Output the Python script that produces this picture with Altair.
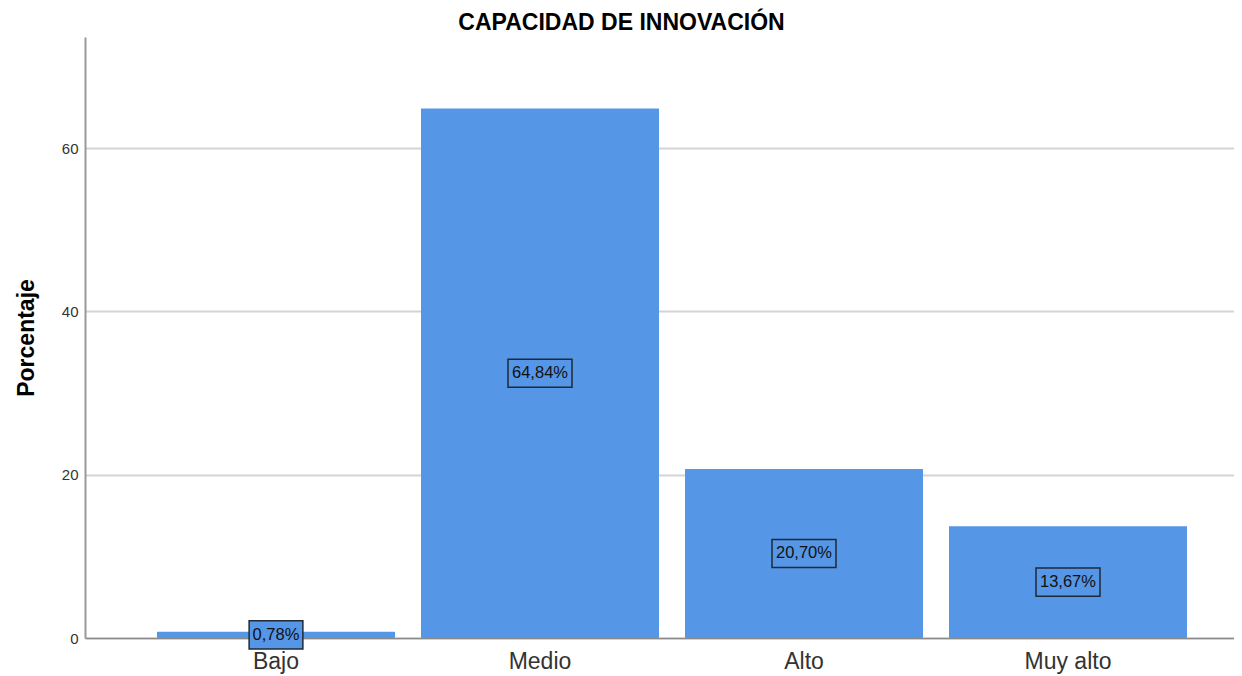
import altair as alt
import pandas as pd

categories = ["Bajo", "Medio", "Alto", "Muy alto"]
values = [0.78, 64.84, 20.70, 13.67]
labels = ["0,78%", "64,84%", "20,70%", "13,67%"]
y_ticks = [0, 20, 40, 60]

df = pd.DataFrame({"cat": categories, "val": values, "lab": labels})

BLUE = "#5596E6"
box5 = "M-0.84,-0.44L0.84,-0.44L0.84,0.44L-0.84,0.44Z"
box6 = "M-1,-0.44L1,-0.44L1,0.44L-1,0.44Z"

x = alt.X("cat:N", sort=categories, title=None,
          scale=alt.Scale(paddingInner=0.0985, paddingOuter=0.2254, align=0.605),
          axis=alt.Axis(labelAngle=0, labelFontSize=23, labelColor="#333333",
                        labelFont="Liberation Sans", ticks=False, labelPadding=12,
                        domainColor="#8a8a8a", domainWidth=1.5, grid=False))

base = alt.Chart(df).transform_calculate(mid="datum.val/2", n="length(datum.lab)")

bars = base.mark_bar(color=BLUE).encode(
    x=x,
    y=alt.Y("val:Q", title="Porcentaje",
            scale=alt.Scale(domain=[0, 73.6], nice=False, zero=True),
            axis=alt.Axis(values=y_ticks, ticks=False, labelFontSize=15,
                          labelColor="#333333", labelFont="Liberation Sans",
                          labelPadding=7, grid=True, gridColor="#d4d4d4",
                          gridWidth=2, domainColor="#999999", domainWidth=2,
                          titleFontSize=23, titleFont="Liberation Sans",
                          titleFontWeight="bold", titleColor="#000000",
                          titlePadding=23)),
)

boxes = base.mark_point(filled=True, fill=BLUE, fillOpacity=1, stroke="#1f2a36",
                        strokeWidth=1.5, strokeOpacity=1, opacity=1, size=4096).encode(
    x=alt.X("cat:N", sort=categories),
    y=alt.Y("mid:Q"),
    shape=alt.Shape("n:N", scale=alt.Scale(domain=[5, 6], range=[box5, box6]), legend=None),
)

texts = base.mark_text(fontSize=16.5, color="#111111", font="Liberation Sans").encode(
    x=alt.X("cat:N", sort=categories),
    y=alt.Y("mid:Q"),
    text="lab:N",
)

chart = alt.layer(bars, boxes, texts).properties(
    width=1149, height=601,
    title=alt.TitleParams("CAPACIDAD DE INNOVACIÓN", fontSize=23, font="Liberation Sans",
                          fontWeight="bold", color="#000000", anchor="middle", dx=-38,
                          offset=2),
    autosize=alt.AutoSizeParams(type="none"),
    padding={"left": 77, "top": 29, "right": 0, "bottom": 38},
).configure_view(stroke=None)

chart.save("out.html", embed_options={"renderer": "svg", "actions": False})
